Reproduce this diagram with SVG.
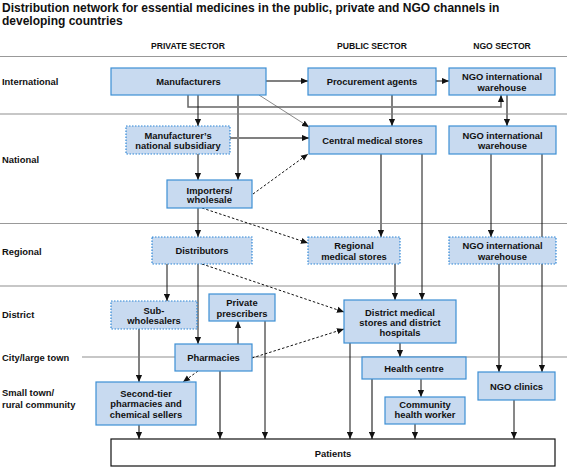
<svg xmlns="http://www.w3.org/2000/svg" width="567" height="467" viewBox="0 0 567 467">
<style>
text{font-family:"Liberation Sans",Arial,sans-serif;font-weight:bold;fill:#111}
.t{font-size:12px}
.h{font-size:8.6px;text-anchor:middle}
.l{font-size:9.4px}
.n text{font-size:9.4px;text-anchor:middle}
.box{fill:#c8daf0;stroke:#3c8fd4;stroke-width:1.2}
.dot{fill:#c8daf0;stroke:#2d86d6;stroke-width:1.2;stroke-dasharray:1.5 1.5}
.sep{stroke:#b4b4b4;stroke-width:1.6;fill:none}
.sep2{stroke:#999;stroke-width:1;fill:none}
.g{stroke:#808080;stroke-width:2;fill:none;marker-end:url(#ah)}
.k{stroke:#111;stroke-width:1;fill:none;marker-end:url(#ah)}
.d{stroke:#111;stroke-width:1;stroke-dasharray:2.5 2;fill:none;marker-end:url(#ah)}
.thin{stroke:#555;stroke-width:0.7;fill:none;marker-end:url(#ah)}
</style>
<defs>
<marker id="ah" viewBox="0 0 8 8" refX="8" refY="4" markerWidth="7" markerHeight="7" orient="auto" markerUnits="userSpaceOnUse">
<path d="M0,0.5 L8,4 L0,7.5 z" fill="#111"/>
</marker>
</defs>
<rect width="567" height="467" fill="#fff"/>
<text class="t" x="2" y="11.5">Distribution network for essential medicines in the public, private and NGO channels in</text>
<text class="t" x="2" y="25">developing countries</text>
<text class="h" x="188" y="48.5">PRIVATE SECTOR</text>
<text class="h" x="372" y="48.5">PUBLIC SECTOR</text>
<text class="h" x="502" y="48.5">NGO SECTOR</text>
<g id="separators">
<line class="sep2" x1="0" y1="56.5" x2="567" y2="56.5"/>
<line class="sep" x1="0" y1="114" x2="567" y2="114"/>
<line class="sep2" x1="0" y1="223.5" x2="567" y2="223.5"/>
<line class="sep" x1="0" y1="286" x2="567" y2="286"/>
<line class="sep" x1="82" y1="357" x2="567" y2="357"/>
</g>
<g id="levels">
<text class="l" x="2" y="85">International</text>
<text class="l" x="2" y="162.5">National</text>
<text class="l" x="2" y="254.5">Regional</text>
<text class="l" x="2" y="317.5">District</text>
<text class="l" x="2" y="360.5">City/large town</text>
<text class="l" x="2" y="396">Small town/</text>
<text class="l" x="2" y="407.5">rural community</text>
</g>
<g id="connectors">
<path class="g" d="M266,81 H308"/>
<path class="k" d="M436,81 H449"/>
<path d="M188,95 V107 H501 V95" stroke="#666" stroke-width="1.5" fill="none" marker-end="url(#ah)"/>
<path class="k" d="M198,95 V126"/>
<path class="g" d="M238,95 V180"/>
<path class="thin" d="M259,95 L309,127"/>
<path class="g" d="M392,95 V126"/>
<path class="g" d="M507,95 V126"/>
<path class="g" d="M230,138 H309"/>
<path class="k" d="M198,154 V180"/>
<path class="d" d="M253,194 L308,154"/>
<path class="k" d="M198,208 V237"/>
<path class="d" d="M202,208 L308,243"/>
<path class="g" d="M381,154 V237"/>
<path class="k" d="M422,154 V300"/>
<path class="k" d="M491,154 V237"/>
<path class="k" d="M542,154 V372"/>
<path class="g" d="M395,264 V300"/>
<path class="g" d="M499,264 V372"/>
<path class="k" d="M167,264 V301"/>
<path class="k" d="M198,264 V344"/>
<path class="d" d="M202,264 L344,312"/>
<path class="g" d="M139,329 V382"/>
<path class="k" d="M238,344 V321"/>
<path class="k" d="M265,321 V439"/>
<path class="d" d="M252,358 L344,329"/>
<path class="d" d="M198,371 L183,382"/>
<path class="g" d="M220,371 V439"/>
<path class="g" d="M139,425 V439"/>
<path class="k" d="M350,343 V439"/>
<path class="k" d="M400,343 V357"/>
<path class="g" d="M372,379 V439"/>
<path class="k" d="M421,379 V397"/>
<path class="k" d="M415,424 V439"/>
<path class="k" d="M514,400 V439"/>
</g>
<g id="manufacturers" class="n"><rect class="box" x="111" y="68" width="155" height="27"/><text x="188.5" y="85">Manufacturers</text></g>
<g id="procurement" class="n"><rect class="box" x="308" y="68" width="128" height="27"/><text x="372" y="85">Procurement agents</text></g>
<g id="ngo-intl" class="n"><rect class="box" x="449" y="68" width="106" height="27"/><text x="502" y="79.5">NGO international</text><text x="502" y="90.5">warehouse</text></g>
<g id="subsidiary" class="n"><rect class="dot" x="126" y="126" width="104" height="28"/><text x="178" y="138.5">Manufacturer’s</text><text x="178" y="149">national subsidiary</text></g>
<g id="central" class="n"><rect class="box" x="309" y="126" width="127" height="28"/><text x="372.5" y="143.5">Central medical stores</text></g>
<g id="ngo-national" class="n"><rect class="box" x="449" y="126" width="107" height="28"/><text x="502.5" y="138.5">NGO international</text><text x="502.5" y="148.5">warehouse</text></g>
<g id="importers" class="n"><rect class="box" x="167" y="180" width="85" height="28"/><text x="209.5" y="193.5">Importers/</text><text x="209.5" y="203">wholesale</text></g>
<g id="distributors" class="n"><rect class="dot" x="152" y="237" width="100" height="27"/><text x="202" y="254">Distributors</text></g>
<g id="regional" class="n"><rect class="dot" x="308" y="237" width="92" height="27"/><text x="354" y="249">Regional</text><text x="354" y="259.5">medical stores</text></g>
<g id="ngo-regional" class="n"><rect class="dot" x="449" y="237" width="107" height="27"/><text x="502.5" y="249">NGO international</text><text x="502.5" y="259.5">warehouse</text></g>
<g id="subwholesalers" class="n"><rect class="dot" x="111" y="301" width="86" height="28"/><text x="154" y="313.5">Sub-</text><text x="154" y="324">wholesalers</text></g>
<g id="prescribers" class="n"><rect class="box" x="209" y="294" width="66" height="27"/><text x="242" y="306">Private</text><text x="242" y="316.5">prescribers</text></g>
<g id="district" class="n"><rect class="box" x="344" y="300" width="112" height="43"/><text x="400" y="315.5">District medical</text><text x="400" y="325.5">stores and district</text><text x="400" y="335.5">hospitals</text></g>
<g id="pharmacies" class="n"><rect class="box" x="175" y="344" width="77" height="27"/><text x="213.5" y="361">Pharmacies</text></g>
<g id="health-centre" class="n"><rect class="box" x="362" y="357" width="104" height="22"/><text x="414" y="371.5">Health centre</text></g>
<g id="chw" class="n"><rect class="box" x="385" y="397" width="80" height="27"/><text x="425" y="407.5">Community</text><text x="425" y="417.5">health worker</text></g>
<g id="ngo-clinics" class="n"><rect class="box" x="478" y="372" width="77" height="28"/><text x="516.5" y="389.5">NGO clinics</text></g>
<g id="second-tier" class="n"><rect class="box" x="96" y="382" width="100" height="43"/><text x="146" y="396.5">Second-tier</text><text x="146" y="407">pharmacies and</text><text x="146" y="417.5">chemical sellers</text></g>
<g id="patients" class="n"><rect x="111" y="439" width="444" height="27" fill="#fff" stroke="#111" stroke-width="1.2"/><text x="333" y="457">Patients</text></g>
</svg>
